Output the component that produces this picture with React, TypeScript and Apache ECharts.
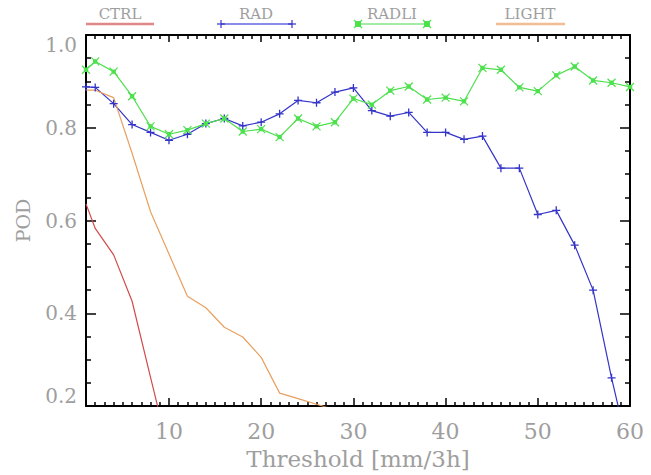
import React, { useEffect, useRef } from "react";
import * as echarts from "echarts";

// ---- data ----
const thresholds = [1, 2, 4, 6, 8, 10, 12, 14, 16, 18, 20, 22, 24, 26, 28, 30, 32, 34, 36, 38, 40, 42, 44, 46, 48, 50, 52, 54, 56, 58, 60];
const ctrlX = [1, 2, 4, 6, 8, 10];
const ctrlPOD = [0.636, 0.583, 0.526, 0.426, 0.262, 0.1];
const radPOD = [0.888, 0.887, 0.852, 0.807, 0.79, 0.773, 0.786, 0.809, 0.82, 0.804, 0.812, 0.83, 0.859, 0.854, 0.877, 0.886, 0.837, 0.825, 0.833, 0.79, 0.79, 0.775, 0.782, 0.713, 0.713, 0.613, 0.622, 0.547, 0.45, 0.261, 0.09];
const radliPOD = [0.925, 0.943, 0.921, 0.868, 0.803, 0.786, 0.795, 0.809, 0.82, 0.792, 0.797, 0.78, 0.82, 0.803, 0.812, 0.863, 0.85, 0.88, 0.889, 0.861, 0.865, 0.857, 0.929, 0.925, 0.887, 0.879, 0.913, 0.932, 0.902, 0.897, 0.888];
const lightX = [1, 2, 4, 6, 8, 10, 12, 14, 16, 18, 20, 22, 24, 26, 28, 30];
const lightPOD = [0.881, 0.881, 0.865, 0.745, 0.619, 0.528, 0.437, 0.412, 0.37, 0.349, 0.305, 0.228, 0.216, 0.204, 0.192, 0.18];
const xMajorTicks = [10, 20, 30, 40, 50, 60];
const seriesNames = ["CTRL", "RAD", "RADLI", "LIGHT"];

const xMinorTicks: number[] = [];
for (let v = 2; v < 60; v++) if (v % 10 !== 0) xMinorTicks.push(v);

const zip = (xs: number[], ys: number[]) => xs.map((x, i) => [x, ys[i]]);

const TEXT = "#9e9e9e";
const FONT = "DejaVu Serif";
const C_CTRL = "#d24a4a";
const C_RAD = "#3434c8";
const C_RADLI = "#4ee04e";
const C_LIGHT = "#e8a060";

const PLUS = "path://M5,0L5,10M0,5L10,5";
const XBOX = "path://M0,0L10,10M10,0L0,10M3,3L7,3L7,7L3,7Z";

export default function App() {
  const ref = useRef<HTMLDivElement>(null);
  useEffect(() => {
    document.body.style.margin = "0";
    if (!ref.current) return;
    const chart = echarts.init(ref.current, null, { renderer: "svg" });
    const axisLine = { show: true, lineStyle: { color: "#000", width: 2 } };
    const tickStyle = { color: "#000", width: 1.5 };
    const xBase = { type: "value", min: 1, max: 60, splitLine: { show: false }, gridIndex: 0 };
    const yBase = {
      type: "value",
      min: 0.2,
      max: 1.0,
      interval: 0.2,
      splitLine: { show: false },
      axisLine,
      axisTick: { show: true, inside: true, length: 10, lineStyle: tickStyle },
      minorTick: { show: true, splitNumber: 4, length: 5, lineStyle: tickStyle },
    };
    const legendX = [120, 256, 392, 530];
    const legendLines = [
      [86, 154],
      [221, 292],
      [358, 427],
      [496, 565],
    ];
    const legendColors = ["#e08888", "#6464e0", "#86e486", "#f2bc94"];
    const graphic: any[] = [];
    seriesNames.forEach((n, i) => {
      graphic.push({
        type: "text",
        x: legendX[i],
        y: 14,
        style: { text: n, fill: TEXT, fontSize: 15, fontFamily: FONT, align: "center", verticalAlign: "middle" },
      });
      graphic.push({
        type: "line",
        shape: { x1: legendLines[i][0], y1: 24, x2: legendLines[i][1], y2: 24 },
        style: { stroke: legendColors[i], lineWidth: i === 0 || i === 3 ? 2.5 : 1.5 },
      });
    });
    [221, 292].forEach((x) => {
      graphic.push({ type: "line", shape: { x1: x, y1: 20, x2: x, y2: 28 }, style: { stroke: C_RAD, lineWidth: 1.2 } });
      graphic.push({ type: "line", shape: { x1: x - 4, y1: 24, x2: x + 4, y2: 24 }, style: { stroke: C_RAD, lineWidth: 1.2 } });
    });
    [358, 427].forEach((x) => {
      graphic.push({ type: "rect", shape: { x: x - 3, y: 21, width: 6, height: 6 }, style: { fill: C_RADLI } });
      graphic.push({ type: "line", shape: { x1: x - 4, y1: 20, x2: x + 4, y2: 28 }, style: { stroke: C_RADLI, lineWidth: 1.2 } });
      graphic.push({ type: "line", shape: { x1: x + 4, y1: 20, x2: x - 4, y2: 28 }, style: { stroke: C_RADLI, lineWidth: 1.2 } });
    });

    chart.setOption({
      animation: false,
      backgroundColor: "#fff",
      grid: { left: 86, right: 21, top: 35, bottom: 66 },
      graphic,
      xAxis: [
        {
          ...xBase,
          position: "bottom",
          axisLine,
          axisTick: { show: true, inside: true, length: 8, customValues: xMajorTicks, lineStyle: tickStyle },
          axisLabel: { customValues: xMajorTicks, color: TEXT, fontSize: 22, fontFamily: FONT, margin: 14 },
          name: "Threshold [mm/3h]",
          nameLocation: "middle",
          nameGap: 39,
          nameTextStyle: { color: TEXT, fontSize: 23, fontFamily: FONT },
        },
        {
          ...xBase,
          position: "bottom",
          axisLine: { show: false },
          axisTick: { show: true, inside: true, length: 4, customValues: xMinorTicks, lineStyle: tickStyle },
          axisLabel: { show: false },
        },
        {
          ...xBase,
          position: "top",
          axisLine,
          axisTick: { show: true, inside: true, length: 7, customValues: xMajorTicks, lineStyle: tickStyle },
          axisLabel: { show: false },
        },
        {
          ...xBase,
          position: "top",
          axisLine: { show: false },
          axisTick: { show: true, inside: true, length: 4, customValues: xMinorTicks, lineStyle: tickStyle },
          axisLabel: { show: false },
        },
      ],
      yAxis: [
        {
          ...yBase,
          position: "left",
          axisLabel: {
            color: TEXT,
            fontSize: 20,
            fontFamily: FONT,
            margin: 9,
            formatter: (v: number) => v.toFixed(1),
            verticalAlignMinLabel: "bottom",
            verticalAlignMaxLabel: "top",
          },
          name: "POD",
          nameLocation: "middle",
          nameGap: 54,
          nameTextStyle: { color: TEXT, fontSize: 19, fontFamily: FONT },
        },
        {
          ...yBase,
          position: "right",
          axisLabel: { show: false },
        },
      ],
      series: [
        {
          name: "CTRL",
          type: "line",
          data: zip(ctrlX, ctrlPOD),
          symbol: "none",
          lineStyle: { color: C_CTRL, width: 1.2 },
          itemStyle: { color: C_CTRL },
          clip: true,
        },
        {
          name: "RAD",
          type: "line",
          data: zip(thresholds, radPOD),
          symbol: PLUS,
          symbolSize: 8,
          lineStyle: { color: C_RAD, width: 1.2 },
          itemStyle: { color: C_RAD, borderColor: C_RAD, borderWidth: 1.3 },
          clip: true,
        },
        {
          name: "RADLI",
          type: "line",
          data: zip(thresholds, radliPOD),
          symbol: XBOX,
          symbolSize: 8,
          lineStyle: { color: C_RADLI, width: 1.2 },
          itemStyle: { color: C_RADLI, borderColor: C_RADLI, borderWidth: 1.2 },
          clip: true,
        },
        {
          name: "LIGHT",
          type: "line",
          data: zip(lightX, lightPOD),
          symbol: "none",
          lineStyle: { color: C_LIGHT, width: 1.2 },
          itemStyle: { color: C_LIGHT },
          clip: true,
        },
      ],
    });
    return () => chart.dispose();
  }, []);
  return <div ref={ref} style={{ width: 651, height: 475 }} />;
}
